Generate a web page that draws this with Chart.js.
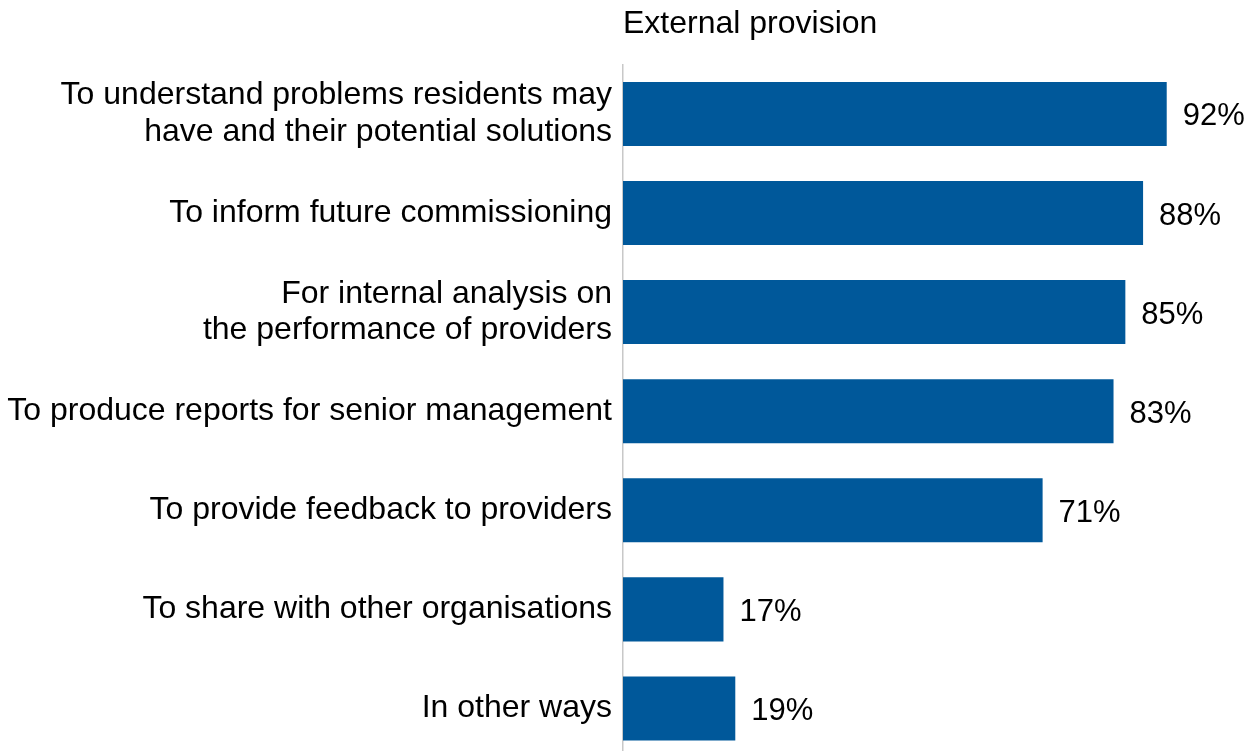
<!DOCTYPE html>
<html>
<head>
<meta charset="utf-8">
<script src="https://cdn.jsdelivr.net/npm/chart.js@4"></script>
<style>
  html, body { margin: 0; padding: 0; background: #fff; overflow: hidden; }
  canvas { display: block; }
</style>
</head>
<body>
<canvas id="chart" width="1254" height="758"></canvas>
<script>
const categories = [
  ['To understand problems residents may', 'have and their potential solutions'],
  'To inform future commissioning',
  ['For internal analysis on', 'the performance of providers'],
  'To produce reports for senior management',
  'To provide feedback to providers',
  'To share with other organisations',
  'In other ways',
]
const values = [92, 88, 85, 83, 71, 17, 19]

const barColor = '#00589A'
const textColor = '#000000'
const fontFamily = '"Liberation Sans", Arial, sans-serif'

// percentage text to the right of each bar
const valueLabels = {
  id: 'valueLabels',
  afterDatasetsDraw(chart) {
    const { ctx } = chart
    const meta = chart.getDatasetMeta(0)
    ctx.save()
    ctx.font = '31px ' + fontFamily
    ctx.fillStyle = textColor
    ctx.textAlign = 'left'
    ctx.textBaseline = 'middle'
    meta.data.forEach((bar, i) => {
      ctx.fillText(values[i] + '%', bar.x + 16, bar.y + 3)
    })
    ctx.restore()
  },
}

const config = {
  type: 'bar',
  data: {
    labels: categories,
    datasets: [{
      data: values,
      backgroundColor: barColor,
      borderWidth: 0,
      barPercentage: 0.646,
      categoryPercentage: 1,
    }],
  },
  options: {
    indexAxis: 'y',
    responsive: false,
    animation: false,
    layout: {
      padding: { left: 0, right: 40, top: 0, bottom: 0 },
    },
    scales: {
      x: {
        display: false,
        min: 0,
        max: 100,
      },
      y: {
        afterFit: (scale) => {
          scale.width = 623
          scale.paddingTop = 0
          scale.paddingBottom = 0
        },
        grid: { display: false, drawTicks: false },
        border: { display: true, color: '#c8c8c8', width: 1.5 },
        ticks: {
          color: textColor,
          padding: 11,
          font: { family: fontFamily, size: 32, lineHeight: 1.15 },
        },
      },
    },
    plugins: {
      legend: { display: false },
      tooltip: { enabled: false },
      title: {
        display: true,
        text: 'External provision',
        align: 'start',
        fullSize: false,
        color: textColor,
        font: { family: fontFamily, size: 32, weight: 'normal', lineHeight: 1.2 },
        padding: { top: 5, bottom: 21 },
      },
    },
  },
  plugins: [valueLabels],
}

new Chart(document.getElementById('chart').getContext('2d'), config)
</script>
</body>
</html>
